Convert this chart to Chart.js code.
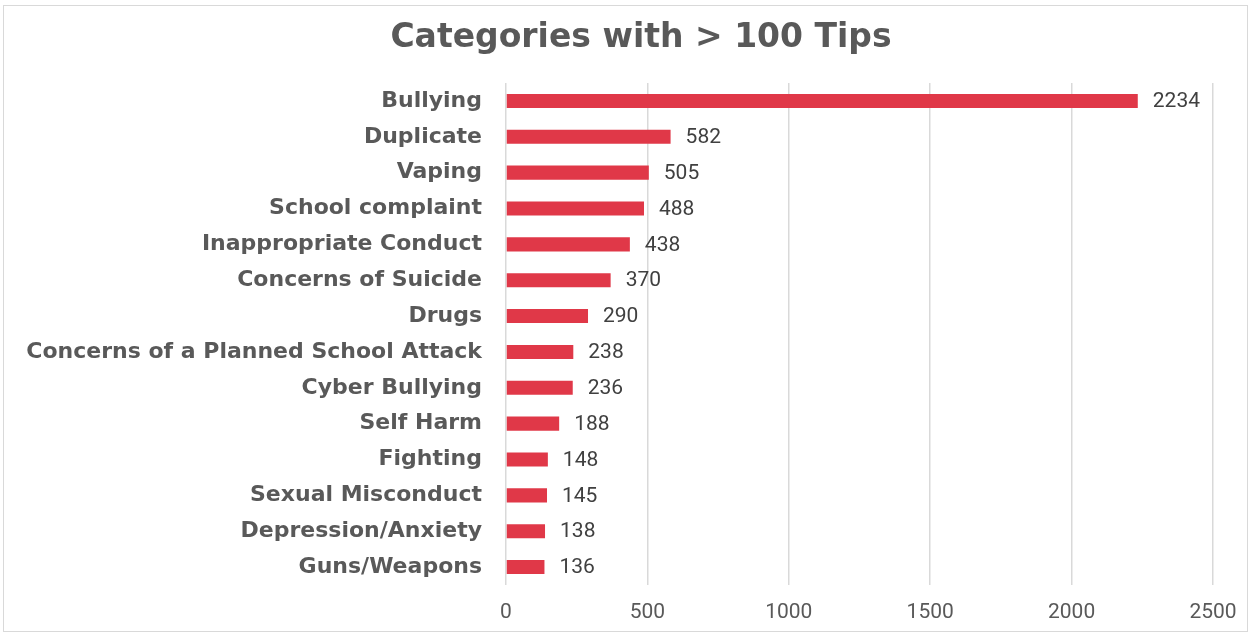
<!DOCTYPE html>
<html>
<head>
<meta charset="utf-8">
<script src="https://cdn.jsdelivr.net/npm/chart.js@4/dist/chart.umd.min.js"></script>
<style>
  html, body { margin: 0; padding: 0; background: #fff; }
  #wrap { position: relative; width: 1252px; height: 634px; }
  #frame { position: absolute; left: 3px; top: 5px; width: 1243px; height: 625px; border: 1px solid #d9d9d9; pointer-events: none; }
  canvas { position: absolute; left: 0; top: 0; }
</style>
</head>
<body>
<div id="wrap">
  <canvas id="tipsChart" width="1252" height="634"></canvas>
  <div id="frame"></div>
</div>
<script>
  /* ---------- Data ---------- */
  const categories = [
    'Bullying', 'Duplicate', 'Vaping', 'School complaint', 'Inappropriate Conduct',
    'Concerns of Suicide', 'Drugs', 'Concerns of a Planned School Attack', 'Cyber Bullying',
    'Self Harm', 'Fighting', 'Sexual Misconduct', 'Depression/Anxiety', 'Guns/Weapons'
  ];
  const tipCounts = [2234, 582, 505, 488, 438, 370, 290, 238, 236, 188, 148, 145, 138, 136];
  const xTicks = [0, 500, 1000, 1500, 2000, 2500];

  const TEXT = '#595959';

  /* ---------- Plugins ---------- */
  // value labels at the bar ends
  const valueLabels = {
    id: 'valueLabels',
    afterDatasetsDraw(chart) {
      const ctx = chart.ctx;
      const meta = chart.getDatasetMeta(0);
      ctx.save();
      ctx.font = '21px Roboto, sans-serif';
      ctx.fillStyle = '#404040';
      ctx.textBaseline = 'middle';
      ctx.textAlign = 'left';
      meta.data.forEach((bar, i) => {
        ctx.fillText(String(tipCounts[i]), bar.x + 15, bar.y + 1);
      });
      ctx.restore();
    }
  };

  // title centred over the frame, like the original
  const frameTitle = {
    id: 'frameTitle',
    afterDraw(chart) {
      const ctx = chart.ctx;
      ctx.save();
      ctx.font = 'bold 33px "DejaVu Sans", sans-serif';
      ctx.fillStyle = TEXT;
      ctx.textAlign = 'center';
      ctx.textBaseline = 'middle';
      ctx.fillText('Categories with > 100 Tips', 641, 38);
      ctx.restore();
    }
  };

  /* ---------- Chart ---------- */
  new Chart(document.getElementById('tipsChart'), {
    type: 'bar',
    data: {
      labels: categories,
      datasets: [{
        data: tipCounts,
        backgroundColor: '#e03848',
        borderWidth: 0,
        barPercentage: 0.8,
        categoryPercentage: 0.49
      }]
    },
    options: {
      indexAxis: 'y',
      responsive: false,
      animation: false,
      layout: { padding: { top: 83, right: 39, bottom: 0, left: 0 } },
      plugins: {
        legend: { display: false },
        title: { display: false },
        tooltip: { enabled: false }
      },
      scales: {
        x: {
          min: 0,
          max: 2500,
          afterBuildTicks(scale) { scale.ticks = xTicks.map(v => ({ value: v })); },
          afterFit(scale) { scale.height = 49; },
          grid: { color: '#d9d9d9', lineWidth: 1.5, drawTicks: false },
          border: { display: false },
          ticks: {
            color: TEXT,
            font: { family: 'Roboto, sans-serif', size: 21 },
            padding: 15,
            callback: v => String(v)
          }
        },
        y: {
          afterFit(scale) { scale.width = 506; },
          grid: { display: false, drawTicks: false },
          border: { display: false },
          ticks: {
            color: TEXT,
            font: { family: '"DejaVu Sans", sans-serif', size: 22, weight: 'bold' },
            padding: 24
          }
        }
      }
    },
    plugins: [valueLabels, frameTitle]
  });
</script>
</body>
</html>
